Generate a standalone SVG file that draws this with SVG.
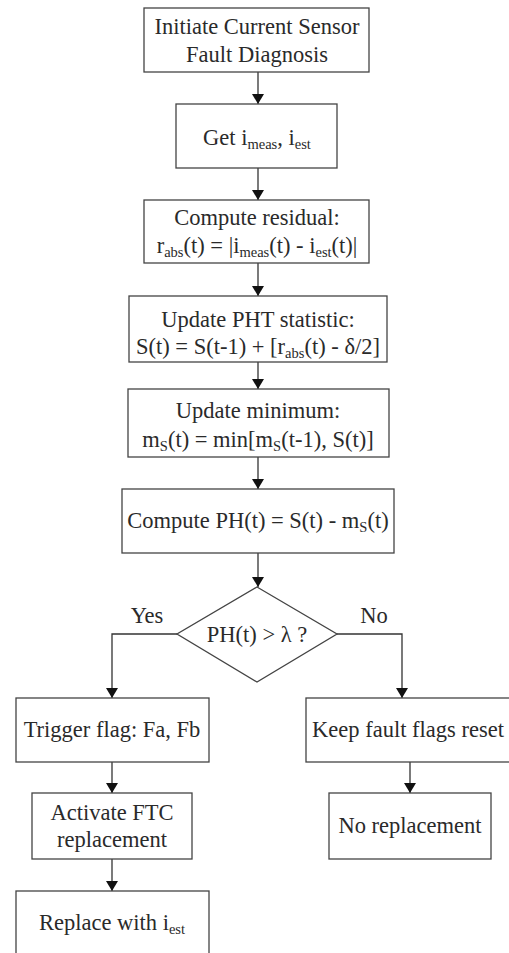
<svg xmlns="http://www.w3.org/2000/svg" width="509" height="953" viewBox="0 0 509 953">
<style>
.b{fill:#fff;stroke:#444;stroke-width:1.3}
.t{font-family:"Liberation Serif","Times New Roman",serif;font-size:22.5px;fill:#2a2a2a;text-anchor:middle}
.s{font-size:14.5px}
.c{fill:none;stroke:#333;stroke-width:1.3}
</style>
<defs>
<marker id="ah" markerWidth="10" markerHeight="12" refX="10" refY="6" orient="auto" markerUnits="userSpaceOnUse">
<path d="M0,0 L10,6 L0,12 Z" fill="#111"/>
</marker>
</defs>
<rect width="509" height="953" fill="#fff"/>
<g id="connectors">
<line class="c" x1="258" y1="72" x2="258" y2="104" marker-end="url(#ah)"/>
<line class="c" x1="258" y1="168" x2="258" y2="200" marker-end="url(#ah)"/>
<line class="c" x1="258" y1="263" x2="258" y2="296" marker-end="url(#ah)"/>
<line class="c" x1="258" y1="362" x2="258" y2="389" marker-end="url(#ah)"/>
<line class="c" x1="258" y1="457" x2="258" y2="489" marker-end="url(#ah)"/>
<line class="c" x1="258" y1="553" x2="258" y2="587" marker-end="url(#ah)"/>
<polyline class="c" points="177,634 112,634 112,698" marker-end="url(#ah)"/>
<polyline class="c" points="337,634 402,634 402,698" marker-end="url(#ah)"/>
<line class="c" x1="112" y1="762" x2="112" y2="793" marker-end="url(#ah)"/>
<line class="c" x1="410" y1="762" x2="410" y2="793" marker-end="url(#ah)"/>
<line class="c" x1="112" y1="859" x2="112" y2="891" marker-end="url(#ah)"/>
<text class="t" x="147" y="623">Yes</text>
<text class="t" x="374" y="623">No</text>
</g>
<g id="n1">
<rect class="b" x="144" y="8" width="225" height="64"/>
<text class="t" x="257" y="34">Initiate Current Sensor</text>
<text class="t" x="257" y="62">Fault Diagnosis</text>
</g>
<g id="n2">
<rect class="b" x="176" y="104" width="161" height="64"/>
<text class="t" x="257" y="145">Get i<tspan class="s" dy="4">meas</tspan><tspan dy="-4">, i</tspan><tspan class="s" dy="4">est</tspan></text>
</g>
<g id="n3">
<rect class="b" x="144" y="200" width="225" height="63"/>
<text class="t" x="257" y="225">Compute residual:</text>
<text class="t" x="257" y="253">r<tspan class="s" dy="4">abs</tspan><tspan dy="-4">(t) = |i</tspan><tspan class="s" dy="4">meas</tspan><tspan dy="-4">(t) - i</tspan><tspan class="s" dy="4">est</tspan><tspan dy="-4">(t)|</tspan></text>
</g>
<g id="n4">
<rect class="b" x="129" y="296" width="258" height="66"/>
<text class="t" x="258" y="327">Update PHT statistic:</text>
<text class="t" x="258" y="354">S(t) = S(t-1) + [r<tspan class="s" dy="4">abs</tspan><tspan dy="-4">(t) - δ/2]</tspan></text>
</g>
<g id="n5">
<rect class="b" x="128" y="389" width="261" height="68"/>
<text class="t" x="258" y="418">Update minimum:</text>
<text class="t" x="258" y="447">m<tspan class="s" dy="4">S</tspan><tspan dy="-4">(t) = min[m</tspan><tspan class="s" dy="4">S</tspan><tspan dy="-4">(t-1), S(t)]</tspan></text>
</g>
<g id="n6">
<rect class="b" x="122" y="489" width="272" height="64"/>
<text class="t" x="258" y="528">Compute PH(t) = S(t) - m<tspan class="s" dy="4">S</tspan><tspan dy="-4">(t)</tspan></text>
</g>
<g id="n7">
<polygon class="b" points="257,587 337,634 257,682 177,634"/>
<text class="t" x="257" y="642">PH(t) &gt; λ ?</text>
</g>
<g id="n8">
<rect class="b" x="16" y="698" width="193" height="64"/>
<text class="t" x="112" y="737">Trigger flag: Fa, Fb</text>
</g>
<g id="n9">
<rect class="b" x="306" y="698" width="210" height="64"/>
<text class="t" x="408" y="737">Keep fault flags reset</text>
</g>
<g id="n10">
<rect class="b" x="32" y="793" width="160" height="66"/>
<text class="t" x="112" y="820">Activate FTC</text>
<text class="t" x="112" y="847">replacement</text>
</g>
<g id="n11">
<rect class="b" x="329" y="793" width="162" height="66"/>
<text class="t" x="410" y="833">No replacement</text>
</g>
<g id="n12">
<rect class="b" x="16" y="891" width="193" height="70"/>
<text class="t" x="112" y="930">Replace with i<tspan class="s" dy="4">est</tspan></text>
</g>
</svg>
